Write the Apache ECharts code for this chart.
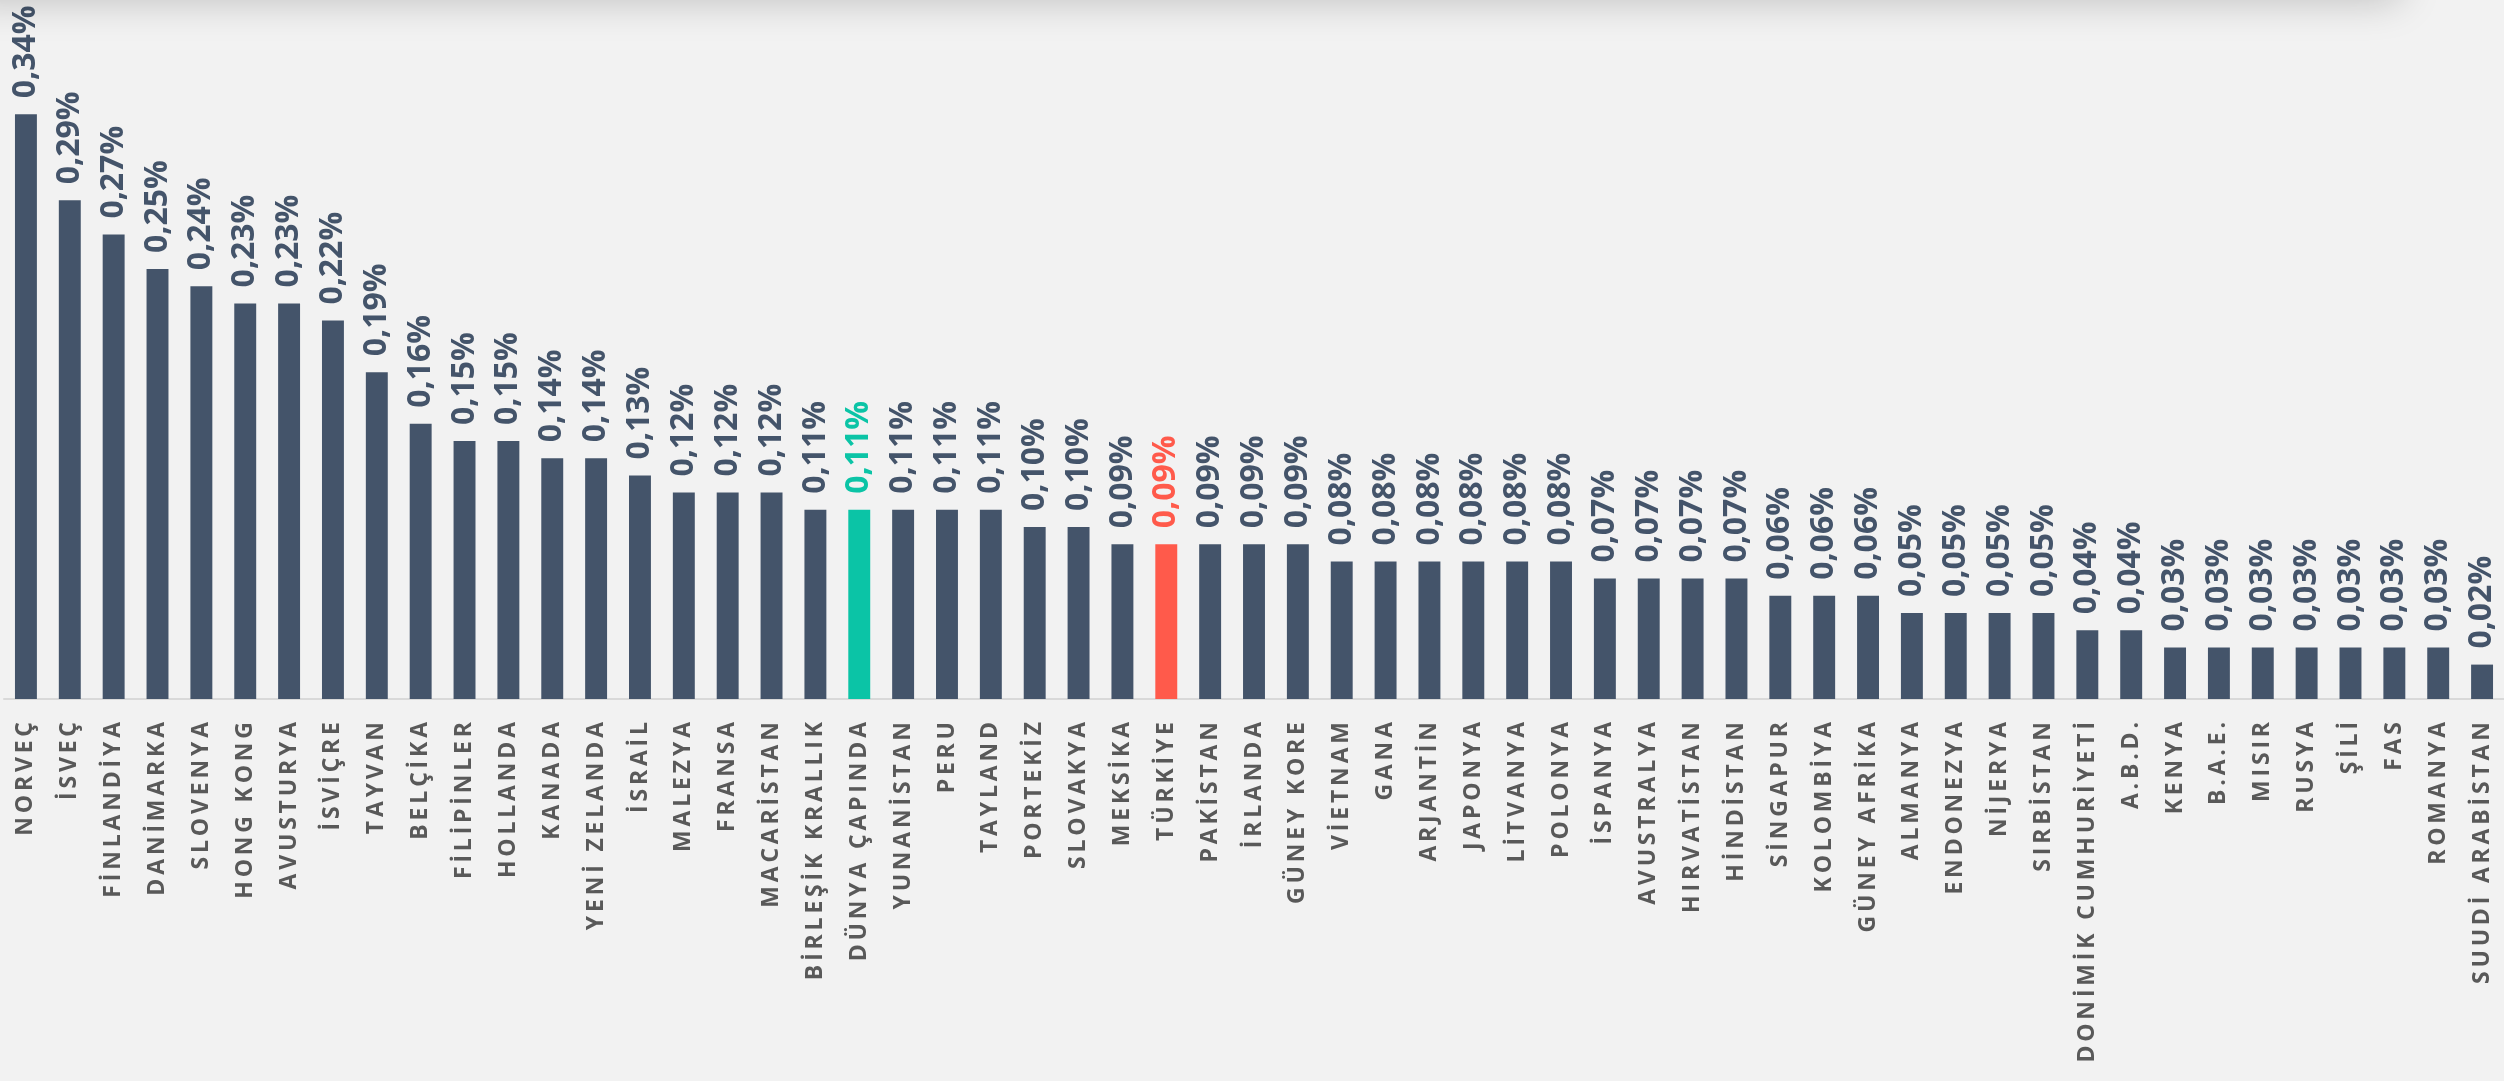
<!DOCTYPE html>
<html>
<head>
<meta charset="utf-8">
<script src="https://cdn.jsdelivr.net/npm/echarts@6/dist/echarts.min.js"></script>
<style>
    html, body { margin: 0; padding: 0; background: #f2f2f2; }
    #chart-container { width: 2504px; height: 1081px; }
</style>
</head>
<body>
<div id="chart-container"></div>
<script>
// ülke adları
const countries = [
    'NORVEÇ', 'İSVEÇ', 'FİNLANDİYA', 'DANİMARKA', 'SLOVENYA', 'HONG KONG', 'AVUSTURYA', 'İSVİÇRE',
    'TAYVAN', 'BELÇİKA', 'FİLİPİNLER', 'HOLLANDA', 'KANADA', 'YENİ ZELANDA', 'İSRAİL', 'MALEZYA',
    'FRANSA', 'MACARİSTAN', 'BİRLEŞİK KRALLIK', 'DÜNYA ÇAPINDA', 'YUNANİSTAN', 'PERU', 'TAYLAND',
    'PORTEKİZ', 'SLOVAKYA', 'MEKSİKA', 'TÜRKİYE', 'PAKİSTAN', 'İRLANDA', 'GÜNEY KORE', 'VİETNAM',
    'GANA', 'ARJANTİN', 'JAPONYA', 'LİTVANYA', 'POLONYA', 'İSPANYA', 'AVUSTRALYA', 'HIRVATİSTAN',
    'HİNDİSTAN', 'SİNGAPUR', 'KOLOMBİYA', 'GÜNEY AFRİKA', 'ALMANYA', 'ENDONEZYA', 'NİJERYA',
    'SIRBİSTAN', 'DONİMİK CUMHURİYETİ', 'A.B.D.', 'KENYA', 'B.A.E.', 'MISIR', 'RUSYA', 'ŞİLİ',
    'FAS', 'ROMANYA', 'SUUDİ ARABİSTAN'
];
// oranlar (%)
const shares = [
    0.34, 0.29, 0.27, 0.25, 0.24, 0.23, 0.23, 0.22,
    0.19, 0.16, 0.15, 0.15, 0.14, 0.14, 0.13, 0.12,
    0.12, 0.12, 0.11, 0.11, 0.11, 0.11, 0.11,
    0.10, 0.10, 0.09, 0.09, 0.09, 0.09, 0.09, 0.08,
    0.08, 0.08, 0.08, 0.08, 0.08, 0.07, 0.07, 0.07,
    0.07, 0.06, 0.06, 0.06, 0.05, 0.05, 0.05,
    0.05, 0.04, 0.04, 0.03, 0.03, 0.03, 0.03, 0.03,
    0.03, 0.03, 0.02
];
// vurgulanan çubuklar
const highlights = {
    'DÜNYA ÇAPINDA': '#0bc4a6',
    'TÜRKİYE': '#ff5a4b'
};

const barColor = '#44546a';

(function () {
    const myChart = echarts.init(document.getElementById('chart-container'));

    const data = shares.map((v, i) => {
        const c = highlights[countries[i]] || barColor;
        return {
            value: v,
            itemStyle: { color: c },
            label: { color: c }
        };
    });

    const option = {
        backgroundColor: '#f2f2f2',
        animation: false,
        graphic: [
            {
                // üstteki gölge
                type: 'rect',
                shape: { x: -40, y: -80, width: 2440, height: 80 },
                style: {
                    fill: '#f2f2f2',
                    shadowBlur: 40,
                    shadowColor: 'rgba(0,0,0,0.22)'
                },
                silent: true,
                z: 100
            }
        ],
        grid: {
            left: 4,
            right: 0,
            top: 11,
            bottom: 382,
            outerBoundsMode: 'none'
        },
        xAxis: {
            type: 'category',
            data: countries,
            axisTick: { show: false },
            axisLine: { lineStyle: { color: '#d9d9d9', width: 2 } },
            axisLabel: {
                rotate: 90,
                interval: 0,
                margin: 23,
                color: '#595959',
                fontFamily: 'Open Sans',
                fontWeight: 'bold',
                fontSize: 23,
                // harf aralığı
                formatter: function (value) {
                    return value.split('').join('\u2009');
                }
            }
        },
        yAxis: {
            type: 'value',
            min: 0,
            max: 0.4,
            show: false,
            splitLine: { show: false }
        },
        series: [
            {
                type: 'bar',
                data: data,
                barWidth: '50%',
                label: {
                    show: true,
                    position: 'top',
                    rotate: 90,
                    align: 'left',
                    verticalAlign: 'middle',
                    distance: 16,
                    fontFamily: 'Open Sans',
                    fontWeight: 'bold',
                    fontSize: 32,
                    formatter: function (p) {
                        return p.value.toFixed(2).replace('.', ',') + '%';
                    }
                }
            }
        ]
    };
    myChart.setOption(option);
})();
</script>
</body>
</html>
